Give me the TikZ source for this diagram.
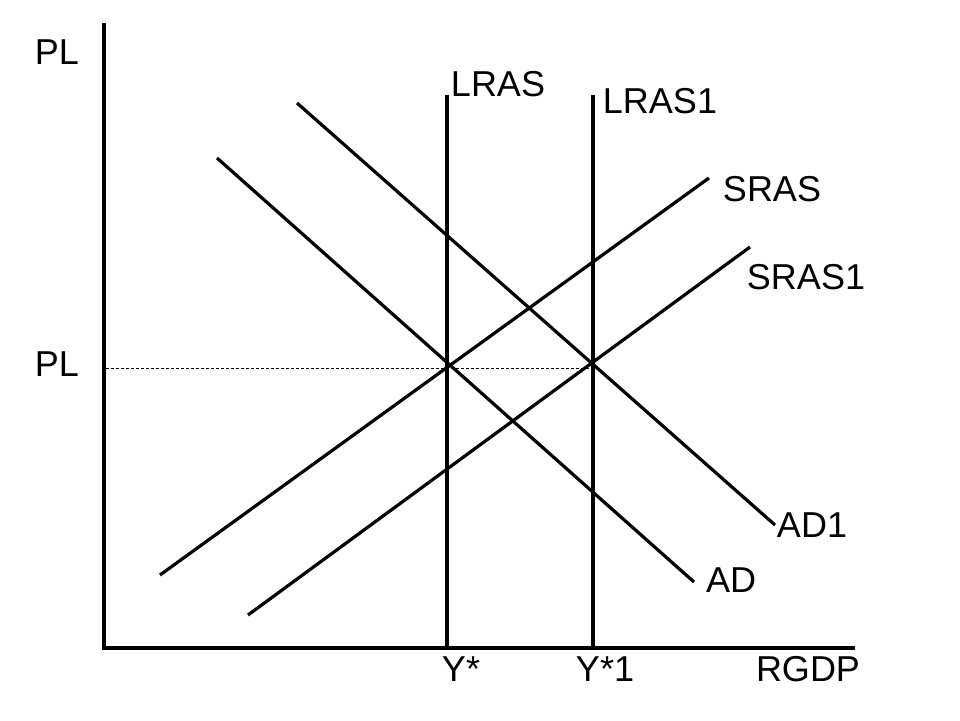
\documentclass[tikz,border=0pt]{standalone}
\usepackage{fontspec}
\setmainfont{Liberation Sans}
\begin{document}
\begin{tikzpicture}[x=1pt,y=-1pt,
  axisline/.style={line width=3.8pt},
  curve/.style={line width=3.2pt},
  guide/.style={line width=0.8pt,dash pattern=on 3pt off 2pt},
  lbl/.style={font=\fontsize{36}{40}\selectfont,inner sep=0pt,anchor=base}]
\useasboundingbox (0,0) rectangle (960,720);
% axes
\coordinate (ytop) at (104,23);
\coordinate (origin) at (104,648);
\coordinate (xend) at (855,648);
\draw[axisline] (ytop) -- (origin) -- (xend);
% LRAS
\coordinate (lrasT) at (447,95);
\coordinate (lrasB) at (447,648);
\coordinate (lras1T) at (593,95);
\coordinate (lras1B) at (593,648);
\draw[curve] (lrasT) -- (lrasB);
\draw[curve] (lras1T) -- (lras1B);
% AD
\coordinate (adA) at (217,158);
\coordinate (adB) at (694,582);
\coordinate (ad1A) at (297,103);
\coordinate (ad1B) at (775,525);
\draw[curve] (adA) -- (adB);
\draw[curve] (ad1A) -- (ad1B);
% SRAS
\coordinate (srasA) at (160,575);
\coordinate (srasB) at (709,178);
\coordinate (sras1A) at (248,615);
\coordinate (sras1B) at (750,247);
\draw[curve] (srasA) -- (srasB);
\draw[curve] (sras1A) -- (sras1B);
% dashed PL
\coordinate (plL) at (106,368);
\coordinate (plR) at (593,368);
\draw[guide] (plL) -- (plR);
% labels
\node[lbl] (tPL) at (57,64) {PL};
\node[lbl] (mPL) at (57,376) {PL};
\node[lbl] (tLRAS) at (498,96) {LRAS};
\node[lbl] (tLRAS1) at (660,113) {LRAS1};
\node[lbl] (tSRAS) at (772,201) {SRAS};
\node[lbl] (tSRAS1) at (806,289) {SRAS1};
\node[lbl] (tAD1) at (812,537) {AD1};
\node[lbl] (tAD) at (731,592) {AD};
\node[lbl] (tY) at (461,681) {Y*};
\node[lbl] (tY1) at (605,681) {Y*1};
\node[lbl] (tRGDP) at (808,681) {RGDP};
\end{tikzpicture}
\end{document}
